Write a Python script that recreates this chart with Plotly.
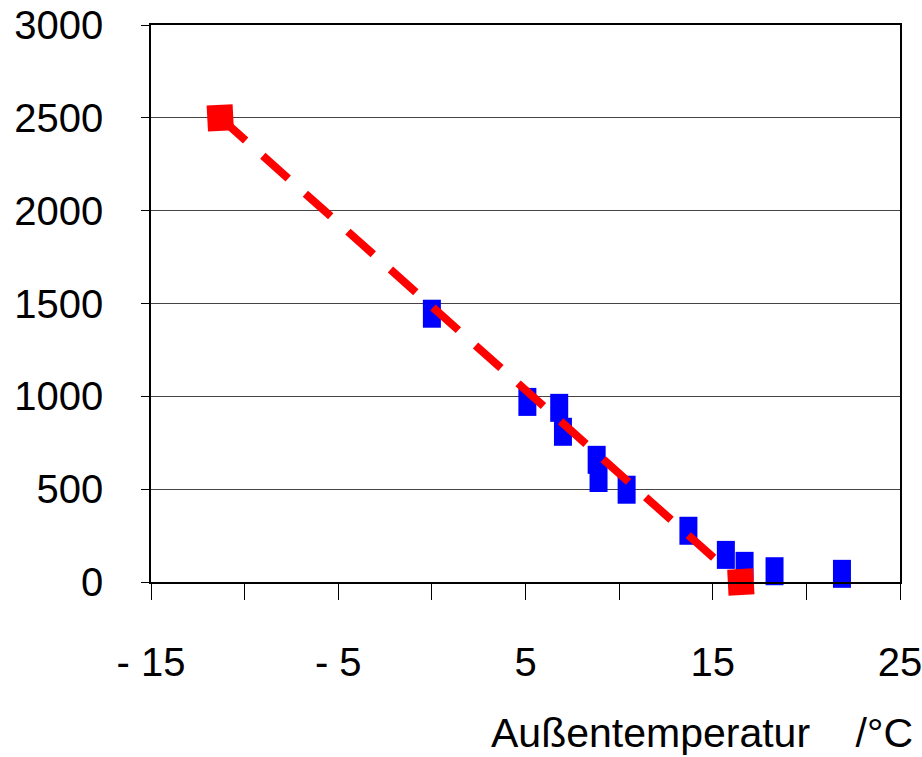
import plotly.graph_objects as go

# Measured data (blue): outside temperature vs value
temp_meas = [0.0, 5.1, 6.8, 7.0, 8.8, 8.9, 10.4, 13.7, 15.7, 16.7, 18.3, 21.9]
val_meas = [1445, 970, 938, 809, 658, 560, 497, 276, 146, 87, 58, 44]

# Design line (red)
temp_line = [-11.3, 16.5]
val_line = [2500, 0]

x_tickvals = [-15, -10, -5, 0, 5, 10, 15, 20, 25]
x_ticktext = ["- 15", "", "- 5", "", "5", "", "15", "", "25"]
y_tickvals = [0, 500, 1000, 1500, 2000, 2500, 3000]

FONT = "Liberation Sans, Arial, sans-serif"

fig = go.Figure()
fig.add_trace(go.Scatter(
    x=temp_meas, y=val_meas, mode="markers",
    marker=dict(symbol="line-ns", size=20, color="#0000FF",
                line=dict(width=18, color="#0000FF")),
    showlegend=False, cliponaxis=False,
))
fig.add_trace(go.Scatter(
    x=temp_line, y=val_line, mode="lines+markers",
    line=dict(color="#FF0000", width=8, dash="34px,23px"),
    marker=dict(symbol="square", size=26, color="#FF0000", angle=-3),
    showlegend=False, cliponaxis=False,
))

fig.update_layout(
    width=922, height=757,
    margin=dict(l=151, r=22, t=25, b=175, autoexpand=False),
    paper_bgcolor="white", plot_bgcolor="white",
    font=dict(family=FONT, size=40, color="black"),
    annotations=[dict(
        text="Außentemperatur    /°C", xref="paper", yref="paper",
        x=(915 - 151) / 749, y=(582 - 733) / 557,
        xanchor="right", yanchor="middle", showarrow=False,
        font=dict(family=FONT, size=41, color="black"),
    )],
)
fig.update_xaxes(
    range=[-15, 25], tickvals=x_tickvals, ticktext=x_ticktext,
    showgrid=False, zeroline=False, automargin=False,
    showline=True, linecolor="black", linewidth=1.5, mirror=True,
    ticks="outside", ticklen=16, tickcolor="black", tickwidth=1,
    ticklabelstandoff=28, ticklabeloverflow="allow",
)
fig.update_yaxes(
    range=[0, 3000], tickvals=y_tickvals, automargin=False,
    showgrid=True, gridcolor="#444444", gridwidth=1, zeroline=False,
    showline=True, linecolor="black", linewidth=1.5, mirror=True,
    ticks="outside", ticklen=8, tickcolor="black", tickwidth=1,
    ticklabelstandoff=30, ticklabeloverflow="allow",
)

fig.write_html(
    "out.html",
    config={"displayModeBar": False},
    post_script="document.body.style.margin='0';document.body.style.overflow='hidden';",
)
